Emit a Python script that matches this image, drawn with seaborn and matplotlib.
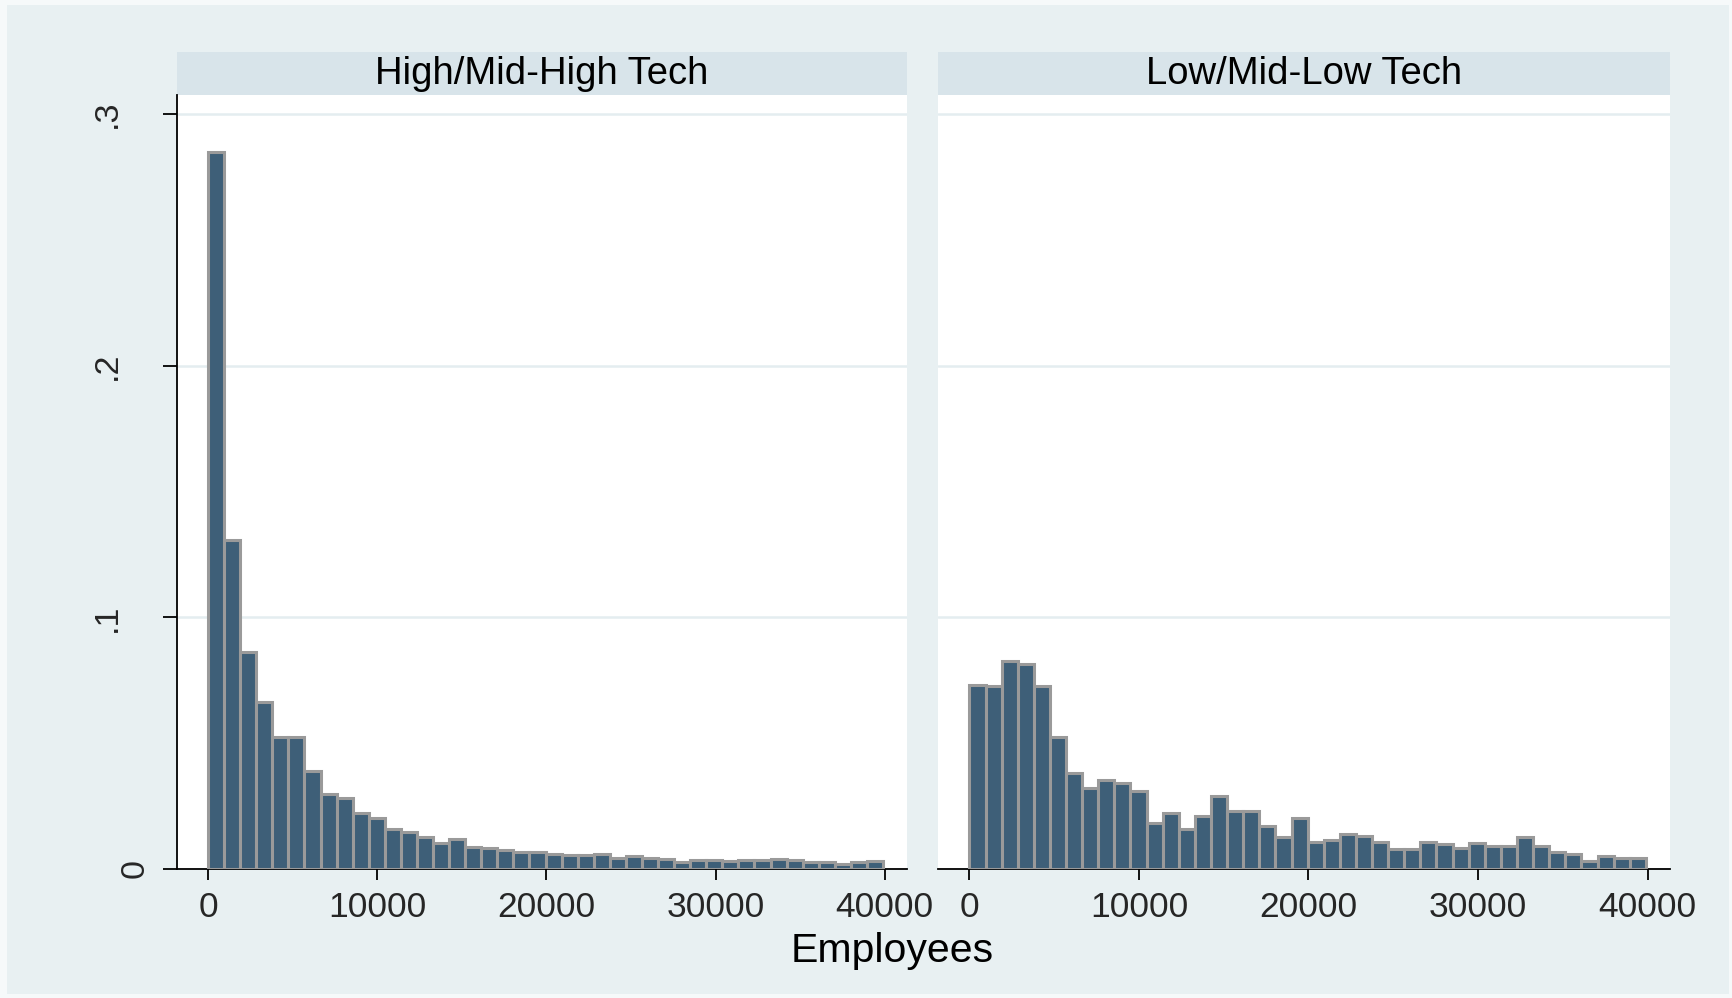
import numpy as np
import pandas as pd
import seaborn as sns
import matplotlib.pyplot as plt
from matplotlib.patches import Rectangle
from matplotlib.transforms import ScaledTranslation

# fraction of firms per employee bin (42 bins of 950 employees)
panels = ["High/Mid-High Tech", "Low/Mid-Low Tech"]
high_tech = [0.285, 0.1308, 0.0864, 0.0665, 0.0526, 0.0523, 0.0390, 0.0298, 0.0283, 0.0221,
             0.0201, 0.0159, 0.0146, 0.0126, 0.0103, 0.0118, 0.0089, 0.0084, 0.0076, 0.0069,
             0.0068, 0.0060, 0.0056, 0.0054, 0.0058, 0.0044, 0.0052, 0.0044, 0.0040, 0.0028,
             0.0037, 0.0034, 0.0030, 0.0037, 0.0034, 0.0038, 0.0035, 0.0026, 0.0026, 0.0020,
             0.0028, 0.0033]
low_tech = [0.0732, 0.0727, 0.0825, 0.0813, 0.0727, 0.0525, 0.0382, 0.0323, 0.0352, 0.0341,
            0.0309, 0.0182, 0.0222, 0.0158, 0.0211, 0.0291, 0.0229, 0.0231, 0.0172, 0.0126,
            0.0201, 0.0108, 0.0117, 0.0139, 0.0131, 0.0109, 0.0078, 0.0078, 0.0109, 0.0099,
            0.0085, 0.0102, 0.0093, 0.0093, 0.0128, 0.0091, 0.0069, 0.0058, 0.0032, 0.0052,
            0.0042, 0.0042]
bin_start = 0
bin_width = 950
x_ticks = [0, 10000, 20000, 30000, 40000]
y_ticks = [0, 0.1, 0.2, 0.3]
y_tick_labels = ["0", ".1", ".2", ".3"]

n_bins = len(high_tech)
centers = bin_start + bin_width * (np.arange(n_bins) + 0.5)
df = pd.DataFrame({
    "employees": np.concatenate([centers, centers]),
    "share": high_tech + low_tech,
    "group": [panels[0]] * n_bins + [panels[1]] * n_bins,
})

sns.set_style("white")
plt.rcParams["font.family"] = ["Liberation Sans", "DejaVu Sans"]

bg = "#E8F0F2"
strip = "#D8E4EA"
grid = "#E4EDF0"
bar_fill = "#3E5F78"
bar_edge = "#9A9A9A"

fig = plt.figure(figsize=(17.33, 9.98), dpi=100, facecolor="#F6F9FA")
fig.patches.append(Rectangle((0.004, 0.004), 0.9937, 0.991, transform=fig.transFigure,
                             facecolor=bg, edgecolor="none", zorder=-10))

axes = [fig.add_axes([0.1021, 0.1293, 0.4213, 0.7755]),
        fig.add_axes([0.5414, 0.1293, 0.4222, 0.7755])]

for i, (ax, name) in enumerate(zip(axes, panels)):
    sub = df[df["group"] == name]
    sns.histplot(data=sub, x="employees", weights="share", binwidth=bin_width,
                 binrange=(bin_start, bin_start + bin_width * n_bins),
                 color=bar_fill, edgecolor=bar_edge, linewidth=2.2, alpha=1, ax=ax, zorder=3)
    ax.set_facecolor("white")
    ax.set_xlim(-1840, 41320)
    ax.set_ylim(0, 0.3076)
    ax.set_xlabel("")
    ax.set_ylabel("")
    ax.set_yticks(y_ticks)
    ax.yaxis.grid(True, color=grid, linewidth=1.8, zorder=0)
    ax.set_axisbelow(True)
    for s in ["top", "right"]:
        ax.spines[s].set_visible(False)
    ax.spines["bottom"].set_color("black")
    ax.spines["bottom"].set_linewidth(1.3)
    ax.set_xticks(x_ticks)
    ax.set_xticklabels([str(t) for t in x_ticks])
    ax.tick_params(axis="x", direction="out", length=8, width=1.3, color="black",
                   labelsize=25.5, pad=8, bottom=True)
    if i == 0:
        ax.spines["left"].set_color("black")
        ax.spines["left"].set_linewidth(1.3)
        ax.set_yticklabels(y_tick_labels)
        ax.tick_params(axis="y", direction="out", length=10, width=1.3, color="black",
                       labelsize=24.5, pad=40, left=True)
        for lab in ax.get_yticklabels():
            lab.set_rotation(90)
            lab.set_ha("center")
            lab.set_va("center")
        zero = ax.get_yticklabels()[0]
        zero.set_transform(zero.get_transform() + ScaledTranslation(0.28, 0, fig.dpi_scale_trans))
    else:
        ax.spines["left"].set_visible(False)
        ax.tick_params(axis="y", left=False, labelleft=False)

    # panel header strip
    ax.add_patch(Rectangle((0, 1), 1, 0.0552, transform=ax.transAxes, facecolor=strip,
                           edgecolor="none", clip_on=False))
    ax.text(0.5, 1.0276, name, transform=ax.transAxes, ha="center", va="center",
            fontsize=27.5, color="black")

fig.text(891.7 / 1733, 1 - 962 / 998, "Employees", ha="center", va="baseline",
         fontsize=29.5, color="black")

fig.savefig("out.png", dpi=100, facecolor=fig.get_facecolor())
